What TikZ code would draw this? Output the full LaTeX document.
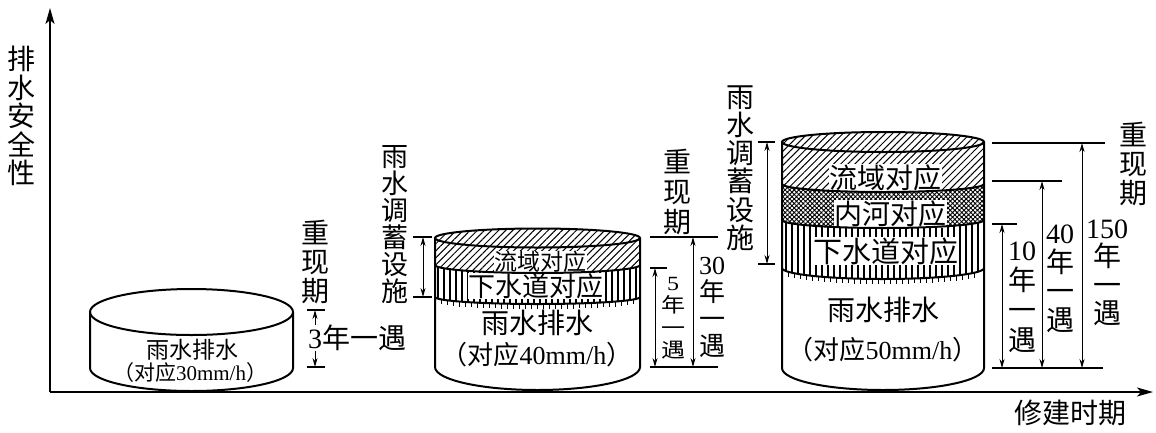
\documentclass[tikz,border=0pt]{standalone}
\usepackage{fontspec}
\setmainfont{Liberation Serif}
\newfontfamily\cjk{Noto Sans CJK SC}
\newfontfamily\lat{Liberation Serif}
\usetikzlibrary{arrows.meta,patterns,patterns.meta}
\newcommand\sq[1]{\scalebox{1}[0.84]{#1}}
\tikzset{
  cyl/.style={line width=2pt},
  dim/.style={line width=1pt,{Stealth[length=9pt,width=5pt]}-{Stealth[length=9pt,width=5pt]}},
  halfdim/.style={line width=1pt,-{Stealth[length=9pt,width=5pt]}},
  tickline/.style={line width=1.2pt},
  axisline/.style={line width=1.6pt,-{Stealth[length=16pt,width=9pt,inset=4pt]}},
  fs/.style n args={2}{inner sep=0pt,align=center,font=\cjk\fontsize{#1}{#2}\selectfont},
  diag/.style={pattern={Lines[angle=45,distance=5pt,line width=1pt]}},
  vert/.style={pattern={Lines[angle=90,distance=6pt,line width=1.1pt]}},
  dots/.style={pattern={Hatch[angle=45,distance=3.2pt,line width=0.9pt]}},
  wbg/.style={fill=white,inner sep=0.5pt},
}
\begin{document}
\begin{tikzpicture}[x=1pt,y=-1pt]
\fill[white] (0,0) rectangle (1156,432);
\useasboundingbox (0,0) rectangle (1156,432);

% axes
\coordinate (O) at (50,392);
\coordinate (ytop) at (50,8);
\coordinate (xend) at (1153,392);
\draw[axisline] (O) -- (ytop);
\draw[axisline] (O) -- (xend);
\node[fs={28}{28.5}] (ylab) at (22,116) {排\\水\\安\\全\\性};
\node[fs={28}{30}] (xlab) at (1070,413) {修建时期};

% ---------- cylinder 1 ----------
\draw[cyl] (191.5,312) ellipse[x radius=101.5pt,y radius=23pt];
\draw[cyl] (90,312) -- (90,368) arc[start angle=180,end angle=360,x radius=101.5pt,y radius=23pt] -- (293,312);
\node[fs={23}{25}] (c1a) at (192,350) {雨水排水};
\node[fs={21}{23}] (c1b) at (190,373) {（对应{\lat 30mm/h}）};

\node[fs={28}{29}] (r1) at (315,262) {重\\现\\期};
\draw[tickline] (307,310) -- (325,310);
\draw[tickline] (307,367) -- (325,367);
\coordinate (y1t) at (315,310);
\coordinate (y1b) at (315,367);
\coordinate (y1m1) at (315,328);
\coordinate (y1m2) at (315,349);
\draw[halfdim] (y1m1) -- (y1t);
\draw[halfdim] (y1m2) -- (y1b);
\node[fs={28}{30},fill=white,inner sep=0.5pt] (y1) at (357,338) {{\lat 3}年一遇};

% ---------- cylinder 2 ----------
\path[diag] (435,238) arc[start angle=180,end angle=0,x radius=102.5pt,y radius=9.5pt]
  -- (640,265) arc[start angle=0,end angle=-180,x radius=102.5pt,y radius=8pt] -- cycle;
\path[vert] (435,265) arc[start angle=180,end angle=360,x radius=102.5pt,y radius=8pt]
  -- (640,297) arc[start angle=0,end angle=-180,x radius=102.5pt,y radius=7pt] -- cycle;
\node[fs={23}{25},wbg] (c2s) at (540,262) {流域对应};
\node[fs={27}{29},wbg] (c2d) at (536,286) {下水道对应};
\foreach \dx in {-96,-90,...,96}
  \draw[line width=0.9pt] ({537.5+\dx},{297+7*sqrt(1-(\dx/102.5)^2)}) -- ++(0,5);
\draw[cyl] (537.5,238) ellipse[x radius=102.5pt,y radius=9.5pt];
\draw[cyl] (435,265) arc[start angle=180,end angle=360,x radius=102.5pt,y radius=8pt];
\draw[cyl] (435,297) arc[start angle=180,end angle=360,x radius=102.5pt,y radius=7pt];
\draw[cyl] (435,238) -- (435,367) arc[start angle=180,end angle=360,x radius=102.5pt,y radius=23pt] -- (640,238);
\node[fs={28}{30}] (c2r) at (537,323) {雨水排水};
\node[fs={26}{28}] (c2m) at (537,355) {（对应{\lat 40mm/h}）};

\node[fs={27}{27}] (ss2) at (395,224.5) {雨\\水\\调\\蓄\\设\\施};
\draw[tickline] (413,237) -- (432,237);
\draw[tickline] (413,297) -- (432,297);
\coordinate (s2t) at (423,237);
\coordinate (s2b) at (423,297);
\draw[dim] (s2t) -- (s2b);

\node[fs={28}{30}] (r2) at (677,191.5) {重\\现\\期};
\draw[tickline] (650,237) -- (718,237);
\draw[tickline] (650,268) -- (667,268);
\draw[tickline] (650,367) -- (718,367);
\coordinate (y5t) at (655,268);
\coordinate (y5b) at (655,367);
\coordinate (y30t) at (693,237);
\coordinate (y30b) at (693,367);
\draw[dim] (y5t) -- (y5b);
\draw[dim] (y30t) -- (y30b);
\node[fs={24}{22.5}] (y5) at (673,318) {\sq{\lat 5}\\\sq{年}\\\sq{一}\\\sq{遇}};
\node[fs={26}{27}] (y30) at (712,305) {{\lat 30}\vphantom{年}\\年\\一\\遇};

% ---------- cylinder 3 ----------
\path[diag] (782,142) arc[start angle=180,end angle=0,x radius=101pt,y radius=10pt]
  -- (984,184) arc[start angle=0,end angle=-180,x radius=101pt,y radius=8pt] -- cycle;
\path[dots] (782,184) arc[start angle=180,end angle=360,x radius=101pt,y radius=8pt]
  -- (984,220) arc[start angle=0,end angle=-180,x radius=101pt,y radius=8pt] -- cycle;
\path[vert] (782,220) arc[start angle=180,end angle=360,x radius=101pt,y radius=8pt]
  -- (984,268) arc[start angle=0,end angle=-180,x radius=101pt,y radius=11pt] -- cycle;
\node[fs={28}{30},wbg] (c3s) at (885,178) {流域对应};
\node[fs={28}{30},wbg] (c3n) at (890,214) {内河对应};
\node[fs={29}{31},wbg] (c3d) at (886,251) {下水道对应};
\foreach \dx in {-95,-89,...,95}
  \draw[line width=0.9pt] ({883+\dx},{268+11*sqrt(1-(\dx/101)^2)}) -- ++(0,5);
\draw[cyl] (883,142) ellipse[x radius=101pt,y radius=10pt];
\draw[cyl] (782,184) arc[start angle=180,end angle=360,x radius=101pt,y radius=8pt];
\draw[cyl] (782,220) arc[start angle=180,end angle=360,x radius=101pt,y radius=8pt];
\draw[cyl] (782,268) arc[start angle=180,end angle=360,x radius=101pt,y radius=11pt];
\draw[cyl] (782,142) -- (782,368) arc[start angle=180,end angle=360,x radius=101pt,y radius=22pt] -- (984,142);
\node[fs={28}{30}] (c3r) at (883,310) {雨水排水};
\node[fs={26}{28}] (c3m) at (883,350) {（对应{\lat 50mm/h}）};

\node[fs={28}{28.3}] (ss3) at (740,168) {雨\\水\\调\\蓄\\设\\施};
\draw[tickline] (758,142) -- (775,142);
\draw[tickline] (758,264) -- (775,264);
\coordinate (s3t) at (767,142);
\coordinate (s3b) at (767,264);
\draw[dim] (s3t) -- (s3b);

\node[fs={28}{29}] (r3) at (1133,164) {重\\现\\期};
\draw[tickline] (992,143) -- (1105,143);
\draw[tickline] (992,181) -- (1062,181);
\draw[tickline] (992,224) -- (1017,224);
\draw[tickline] (992,368) -- (1103,368);
\coordinate (y10t) at (1002,224);
\coordinate (y10b) at (1002,368);
\coordinate (y40t) at (1042,181);
\coordinate (y40b) at (1042,368);
\coordinate (y150t) at (1082,143);
\coordinate (y150b) at (1082,368);
\draw[dim] (y10t) -- (y10b);
\draw[dim] (y40t) -- (y40b);
\draw[dim] (y150t) -- (y150b);
\node[fs={28}{30}] (y10) at (1022,295) {{\lat 10}\vphantom{年}\\年\\一\\遇};
\node[fs={28}{29}] (y40) at (1060,276.5) {{\lat 40}\vphantom{年}\\年\\一\\遇};
\node[fs={28}{28.5}] (y150) at (1107,270.5) {{\lat 150}\vphantom{年}\\年\\一\\遇};
\end{tikzpicture}
\end{document}
